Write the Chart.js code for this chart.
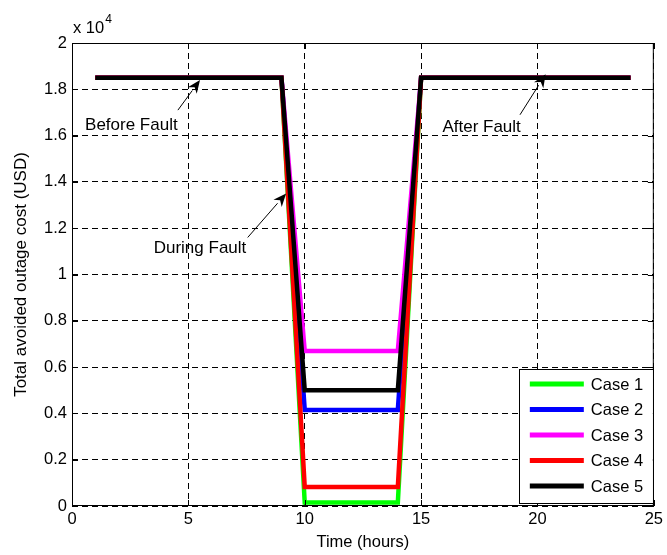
<!DOCTYPE html>
<html><head><meta charset="utf-8">
<script src="https://cdn.jsdelivr.net/npm/chart.js@4/dist/chart.umd.min.js"></script>
<style>html,body{margin:0;padding:0;background:#fff}canvas{display:block}</style>
</head><body>
<canvas id="c" width="667" height="555"></canvas>
<script>
// ---- data (USD) ----
const hours = [1,2,3,4,5,6,7,8,9,10,11,12,13,14,15,16,17,18,19,20,21,22,23,24];
const case1 = [18500,18500,18500,18500,18500,18500,18500,18500,18500,150,150,150,150,150,18500,18500,18500,18500,18500,18500,18500,18500,18500,18500];
const case2 = [18500,18500,18500,18500,18500,18500,18500,18500,18500,4150,4150,4150,4150,4150,18500,18500,18500,18500,18500,18500,18500,18500,18500,18500];
const case3 = [18500,18500,18500,18500,18500,18500,18500,18500,18500,6700,6700,6700,6700,6700,18500,18500,18500,18500,18500,18500,18500,18500,18500,18500];
const case4 = [18500,18500,18500,18500,18500,18500,18500,18500,18500,820,820,820,820,820,18500,18500,18500,18500,18500,18500,18500,18500,18500,18500];
const case5 = [18500,18500,18500,18500,18500,18500,18500,18500,18500,5000,5000,5000,5000,5000,18500,18500,18500,18500,18500,18500,18500,18500,18500,18500];
const seriesNames = ['Case 1','Case 2','Case 3','Case 4','Case 5'];
const seriesColors = ['#00ff00','#0000ff','#ff00ff','#ff0000','#000000'];
const xTickValues = [0,5,10,15,20,25];
const yTickValues = [0,2000,4000,6000,8000,10000,12000,14000,16000,18000,20000];
const yScaleFactor = 10000;
const xTitle = 'Time (hours)';
const yTitle = 'Total avoided outage cost (USD)';
// annotation labels: text, text anchor (x,y), arrow tail (x,y), arrow head (x,y) in data units
const annoText = ['Before Fault','During Fault','After Fault'];
const annoTextX = [2.55, 5.5, 17.6];
const annoTextY = [16450, 11150, 16350];
const annoTailX = [4.55, 7.55, 19.25];
const annoTailY = [17100, 11600, 16900];
const annoHeadX = [5.5, 9.2, 20.35];
const annoHeadY = [18400, 13500, 18650];

const FONT = 'Liberation Sans, Arial, Helvetica, sans-serif';
const allSeries = [case1, case2, case3, case4, case5];

const datasets = allSeries.map((arr, i) => ({
  label: seriesNames[i],
  data: hours.map((h, j) => ({x: h, y: arr[j]})),
  borderColor: seriesColors[i],
  backgroundColor: seriesColors[i],
  borderWidth: 4.5,
  pointRadius: 0,
  tension: 0,
  fill: false,
  borderJoinStyle: 'miter',
  borderCapStyle: 'butt',
  order: allSeries.length - i
}));

const frame = {
  id: 'frame',
  afterDatasetsDraw(chart) {
    const {ctx, chartArea: a, scales: {x, y}} = chart;
    ctx.save();
    ctx.strokeStyle = '#000';
    ctx.lineWidth = 1;
    ctx.beginPath();
    ctx.rect(a.left + 0.5, a.top + 0.5, a.right - a.left - 1, a.bottom - a.top - 1);
    ctx.stroke();
    // inward ticks
    const tl = 6;
    ctx.beginPath();
    xTickValues.forEach(v => {
      const px = Math.round(x.getPixelForValue(v)) + 0.5;
      ctx.moveTo(px, a.bottom); ctx.lineTo(px, a.bottom - tl);
      ctx.moveTo(px, a.top); ctx.lineTo(px, a.top + tl);
    });
    yTickValues.forEach(v => {
      const py = Math.round(y.getPixelForValue(v)) + 0.5;
      ctx.moveTo(a.left, py); ctx.lineTo(a.left + tl, py);
      ctx.moveTo(a.right, py); ctx.lineTo(a.right - tl, py);
    });
    ctx.stroke();
    // exponent label
    ctx.fillStyle = '#000';
    ctx.textBaseline = 'alphabetic';
    ctx.textAlign = 'left';
    ctx.font = '16.5px ' + FONT;
    ctx.fillText('x 10', a.left + 1, a.top - 10);
    const w = ctx.measureText('x 10').width;
    ctx.font = '12px ' + FONT;
    ctx.fillText('4', a.left + 2 + w, a.top - 20);
    // annotations
    ctx.font = '17px ' + FONT;
    ctx.textAlign = 'center';
    ctx.textBaseline = 'middle';
    annoText.forEach((t, i) => {
      ctx.fillStyle = '#000';
      ctx.fillText(t, x.getPixelForValue(annoTextX[i]), y.getPixelForValue(annoTextY[i]));
      const x1 = x.getPixelForValue(annoTailX[i]), y1 = y.getPixelForValue(annoTailY[i]);
      const x2 = x.getPixelForValue(annoHeadX[i]), y2 = y.getPixelForValue(annoHeadY[i]);
      const ang = Math.atan2(y2 - y1, x2 - x1);
      const L = 13, W = 5.5;
      const bx = x2 - L * Math.cos(ang), by = y2 - L * Math.sin(ang);
      ctx.strokeStyle = '#000';
      ctx.lineWidth = 1;
      ctx.beginPath(); ctx.moveTo(x1, y1); ctx.lineTo(bx, by); ctx.stroke();
      ctx.beginPath();
      ctx.moveTo(x2, y2);
      ctx.lineTo(bx - W * Math.sin(ang), by + W * Math.cos(ang));
      ctx.lineTo(x2 - 0.7 * L * Math.cos(ang), y2 - 0.7 * L * Math.sin(ang));
      ctx.lineTo(bx + W * Math.sin(ang), by - W * Math.cos(ang));
      ctx.closePath();
      ctx.fill();
    });
    // legend
    const bw = 134, bh = 134;
    const lx = a.right - 1 - bw, ly = a.bottom - 3 - bh;
    ctx.fillStyle = '#fff';
    ctx.fillRect(lx, ly, bw, bh);
    ctx.strokeStyle = '#000';
    ctx.lineWidth = 1;
    ctx.strokeRect(Math.round(lx) + 0.5, Math.round(ly) + 0.5, bw, bh);
    ctx.textAlign = 'left';
    ctx.textBaseline = 'middle';
    ctx.font = '16.5px ' + FONT;
    seriesNames.forEach((n, i) => {
      const cy = ly + 15 + i * 25.5;
      ctx.strokeStyle = seriesColors[i];
      ctx.lineWidth = 5;
      ctx.beginPath(); ctx.moveTo(lx + 11, cy); ctx.lineTo(lx + 65, cy); ctx.stroke();
      ctx.fillStyle = '#000';
      ctx.fillText(n, lx + 72, cy + 1);
    });
    ctx.restore();
  }
};

new Chart(document.getElementById('c'), {
  type: 'line',
  data: {datasets},
  plugins: [frame],
  options: {
    responsive: false,
    animation: false,
    devicePixelRatio: 1,
    layout: {padding: {top: 43, right: 10, left: 0, bottom: 0}},
    plugins: {legend: {display: false}, tooltip: {enabled: false}},
    scales: {
      x: {
        type: 'linear', min: 0, max: 25,
        afterBuildTicks: s => { s.ticks = xTickValues.map(v => ({value: v})); },
        afterFit: s => { s.height = 49; },
        ticks: {color: '#000', font: {family: FONT, size: 16.5}, padding: 4, maxRotation: 0},
        grid: {color: '#000', lineWidth: 1, drawTicks: false},
        border: {display: false, dash: [6, 4]},
        title: {display: true, text: xTitle, color: '#000', font: {family: FONT, size: 16.5}, padding: {top: 0, bottom: 3}}
      },
      y: {
        type: 'linear', min: 0, max: 20000,
        afterBuildTicks: s => { s.ticks = yTickValues.map(v => ({value: v})); },
        afterFit: s => { s.width = 72; },
        ticks: {color: '#000', font: {family: FONT, size: 16.5}, padding: 5,
          callback: v => String(Math.round(v / yScaleFactor * 10) / 10)},
        grid: {color: '#000', lineWidth: 1, drawTicks: false},
        border: {display: false, dash: [6, 4]},
        title: {display: true, text: yTitle, color: '#000', font: {family: FONT, size: 17}, padding: {top: 11, bottom: 0}}
      }
    }
  }
});
</script>
</body></html>
